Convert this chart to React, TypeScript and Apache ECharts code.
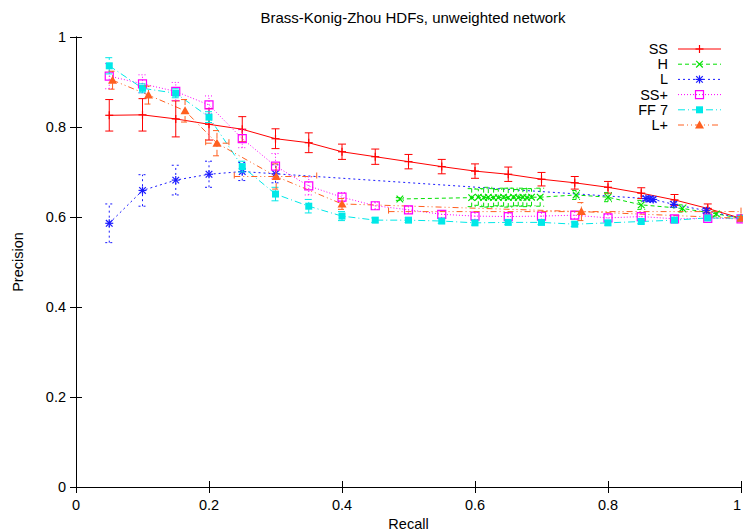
import React, { useEffect, useRef } from "react";
import * as echarts from "echarts";

const X_TICKS = [0, 0.2, 0.4, 0.6, 0.8, 1];
const Y_TICKS = [0, 0.2, 0.4, 0.6, 0.8, 1];

const SS_X = [0.05, 0.1, 0.15, 0.2, 0.25, 0.3, 0.35, 0.4, 0.45, 0.5, 0.55, 0.6, 0.65, 0.7, 0.75, 0.8, 0.85, 0.9, 0.95, 1.0];
const SS_Y = [0.826, 0.827, 0.818, 0.806, 0.795, 0.774, 0.765, 0.745, 0.734, 0.723, 0.712, 0.702, 0.695, 0.684, 0.676, 0.666, 0.653, 0.638, 0.619, 0.597];
const SS_ERR = [0.035, 0.036, 0.04, 0.035, 0.028, 0.022, 0.022, 0.017, 0.017, 0.016, 0.016, 0.016, 0.016, 0.015, 0.014, 0.013, 0.012, 0.012, 0.01, 0.005];

const H_X = [0.487, 0.595, 0.605, 0.613, 0.62, 0.628, 0.635, 0.643, 0.65, 0.658, 0.665, 0.672, 0.678, 0.685, 0.698, 0.752, 0.8, 0.85, 0.912, 0.963, 1.0];
const H_Y = [0.640, 0.643, 0.644, 0.643, 0.644, 0.643, 0.643, 0.644, 0.643, 0.644, 0.643, 0.644, 0.643, 0.644, 0.644, 0.649, 0.644, 0.627, 0.619, 0.607, 0.597];
const H_ERR = [0.003, 0.02, 0.018, 0.02, 0.022, 0.02, 0.018, 0.02, 0.021, 0.02, 0.018, 0.02, 0.02, 0.019, 0.02, 0.01, 0.01, 0.01, 0.008, 0.005, 0.003];

const L_X = [0.05, 0.1, 0.15, 0.2, 0.25, 0.3, 0.857, 0.863, 0.868, 0.899, 0.948, 1.0];
const L_Y = [0.586, 0.659, 0.682, 0.695, 0.701, 0.696, 0.641, 0.640, 0.639, 0.628, 0.614, 0.597];
const L_ERR = [0.043, 0.035, 0.033, 0.029, 0.02, 0.02, 0.005, 0.005, 0.005, 0.006, 0.005, 0.003];

const SSP_X = [0.05, 0.1, 0.15, 0.2, 0.25, 0.3, 0.35, 0.4, 0.45, 0.5, 0.55, 0.6, 0.65, 0.7, 0.75, 0.8, 0.85, 0.9, 0.95, 1.0];
const SSP_Y = [0.913, 0.896, 0.879, 0.849, 0.774, 0.713, 0.669, 0.644, 0.625, 0.616, 0.606, 0.602, 0.601, 0.602, 0.604, 0.598, 0.601, 0.596, 0.597, 0.596];
const SSP_ERR = [0.028, 0.02, 0.02, 0.02, 0.02, 0.028, 0.02, 0.01, 0.008, 0.008, 0.008, 0.008, 0.008, 0.008, 0.008, 0.008, 0.008, 0.006, 0.005, 0.003];

const FF_X = [0.05, 0.1, 0.15, 0.2, 0.25, 0.3, 0.35, 0.4, 0.45, 0.5, 0.55, 0.6, 0.65, 0.7, 0.75, 0.8, 0.85, 0.9, 0.95, 1.0];
const FF_Y = [0.936, 0.886, 0.875, 0.822, 0.712, 0.651, 0.624, 0.602, 0.593, 0.593, 0.591, 0.587, 0.588, 0.588, 0.584, 0.587, 0.590, 0.593, 0.598, 0.597];
const FF_ERR = [0.018, 0.01, 0.01, 0.012, 0.012, 0.015, 0.015, 0.01, 0.005, 0.005, 0.005, 0.005, 0.005, 0.005, 0.005, 0.005, 0.005, 0.005, 0.004, 0.003];

const LP_X = [0.055, 0.109, 0.164, 0.212, 0.301, 0.4, 0.76, 1.0];
const LP_Y = [0.904, 0.871, 0.836, 0.764, 0.690, 0.629, 0.612, 0.597];
const LP_ERR = [0.02, 0.02, 0.025, 0.028, 0.028, 0.012, 0.02, 0.004];
const LP_XLO = [0.055, 0.109, 0.164, 0.195, 0.238, 0.4, 0.47, 1.0];
const LP_XHI = [0.055, 0.109, 0.164, 0.23, 0.362, 0.4, 1.0, 1.0];

type Marker = "plus" | "cross" | "star" | "box" | "fbox" | "tri";

interface SeriesDef {
  name: string;
  xs: number[];
  ys: number[];
  err: number[];
  xlo?: number[];
  xhi?: number[];
  color: string;
  dash: number[] | null;
  marker: Marker;
}

const SERIES: SeriesDef[] = [
  { name: "SS", xs: SS_X, ys: SS_Y, err: SS_ERR, color: "#ff0000", dash: null, marker: "plus" },
  { name: "H", xs: H_X, ys: H_Y, err: H_ERR, color: "#00e000", dash: [4, 3], marker: "cross" },
  { name: "L", xs: L_X, ys: L_Y, err: L_ERR, color: "#1a1aff", dash: [2, 3], marker: "star" },
  { name: "SS+", xs: SSP_X, ys: SSP_Y, err: SSP_ERR, color: "#ff00ff", dash: [1, 2], marker: "box" },
  { name: "FF 7", xs: FF_X, ys: FF_Y, err: FF_ERR, color: "#00e8e8", dash: [7, 3, 1, 3], marker: "fbox" },
  { name: "L+", xs: LP_X, ys: LP_Y, err: LP_ERR, xlo: LP_XLO, xhi: LP_XHI, color: "#ff6020", dash: [6, 3, 1, 3, 1, 3], marker: "tri" },
];

function markerShapes(m: Marker, cx: number, cy: number, color: string): any[] {
  const st = { stroke: color, lineWidth: 1.2, fill: "none" };
  const ln = (x1: number, y1: number, x2: number, y2: number) => ({
    type: "line",
    shape: { x1, y1, x2, y2 },
    style: { stroke: color, lineWidth: 1.2 },
  });
  const s = 4;
  const d = 3.3;
  switch (m) {
    case "plus":
      return [ln(cx - s, cy, cx + s, cy), ln(cx, cy - s, cx, cy + s)];
    case "cross":
      return [ln(cx - d, cy - d, cx + d, cy + d), ln(cx - d, cy + d, cx + d, cy - d)];
    case "star":
      return [
        ln(cx - s, cy, cx + s, cy),
        ln(cx, cy - s, cx, cy + s),
        ln(cx - d, cy - d, cx + d, cy + d),
        ln(cx - d, cy + d, cx + d, cy - d),
      ];
    case "box":
      return [{ type: "rect", shape: { x: cx - 4, y: cy - 4, width: 8, height: 8 }, style: st }];
    case "fbox":
      return [{ type: "rect", shape: { x: cx - 3.5, y: cy - 3.5, width: 7, height: 7 }, style: { fill: color } }];
    case "tri":
      return [
        {
          type: "polygon",
          shape: { points: [[cx, cy - 4.5], [cx + 4.5, cy + 3.5], [cx - 4.5, cy + 3.5]] },
          style: { fill: color },
        },
      ];
  }
  return [];
}

const App: React.FC = () => {
  const ref = useRef<HTMLDivElement>(null);

  useEffect(() => {
    if (!ref.current) return;
    const chart = echarts.init(ref.current, null, { renderer: "svg" });

    const lineSeries = SERIES.map((s) => ({
      name: s.name,
      type: "line",
      data: s.xs.map((x, i) => [x, s.ys[i]]),
      showSymbol: false,
      symbol: "none",
      lineStyle: { color: s.color, width: 1, type: s.dash ? s.dash : "solid" },
      z: 2,
    }));

    const customSeries = SERIES.map((s) => ({
      name: s.name + "_err",
      type: "custom",
      data: s.xs.map((x, i) => [
        x,
        s.ys[i],
        s.ys[i] - s.err[i],
        s.ys[i] + s.err[i],
        s.xlo ? s.xlo[i] : x,
        s.xhi ? s.xhi[i] : x,
      ]),
      z: 3,
      renderItem: (_params: any, api: any) => {
        const x = api.value(0);
        const y = api.value(1);
        const lo = api.value(2);
        const hi = api.value(3);
        const xl = api.value(4);
        const xh = api.value(5);
        const p = api.coord([x, y]);
        const pl = api.coord([x, lo]);
        const ph = api.coord([x, hi]);
        const es = { stroke: s.color, lineWidth: 1, lineDash: s.dash || undefined };
        const children: any[] = [];
        const c = 4;
        if (Math.abs(pl[1] - ph[1]) > 1) {
          children.push({ type: "line", shape: { x1: p[0], y1: pl[1], x2: p[0], y2: ph[1] }, style: es });
          children.push({ type: "line", shape: { x1: p[0] - c, y1: pl[1], x2: p[0] + c, y2: pl[1] }, style: es });
          children.push({ type: "line", shape: { x1: p[0] - c, y1: ph[1], x2: p[0] + c, y2: ph[1] }, style: es });
        }
        const qx1 = api.coord([xl, y]);
        const qx2 = api.coord([xh, y]);
        if (Math.abs(qx2[0] - qx1[0]) > 1) {
          children.push({ type: "line", shape: { x1: qx1[0], y1: p[1], x2: qx2[0], y2: p[1] }, style: es });
          children.push({ type: "line", shape: { x1: qx1[0], y1: p[1] - c, x2: qx1[0], y2: p[1] + c }, style: es });
          children.push({ type: "line", shape: { x1: qx2[0], y1: p[1] - c, x2: qx2[0], y2: p[1] + c }, style: es });
        }
        children.push(...markerShapes(s.marker, p[0], p[1], s.color));
        return { type: "group", children };
      },
    }));

    const font = "'Liberation Sans', Arial, sans-serif";

    // Legend drawn with graphic elements
    const legendChildren: any[] = [];
    SERIES.forEach((s, i) => {
      const y = 49 + i * 15.2;
      legendChildren.push({
        type: "text",
        x: 668,
        y,
        style: {
          text: s.name,
          fill: "#000",
          font: "14.5px " + font,
          textAlign: "right",
          textVerticalAlign: "middle",
        },
      });
      legendChildren.push({
        type: "line",
        shape: { x1: 678, y1: y, x2: 721, y2: y },
        style: { stroke: s.color, lineWidth: 1, lineDash: s.dash || undefined },
      });
      legendChildren.push(...markerShapes(s.marker, 699.5, y, s.color));
    });

    const tickFont = { color: "#000", fontSize: 14.5, fontFamily: font };

    const option: any = {
      animation: false,
      backgroundColor: "#fff",
      title: {
        text: "Brass-Konig-Zhou HDFs, unweighted network",
        left: 408,
        top: 5,
        textAlign: "center",
        textStyle: { fontSize: 15, fontWeight: "normal", color: "#000", fontFamily: font },
      },
      grid: { left: 76, right: 2, top: 37, bottom: 44, containLabel: false, outerBoundsMode: "none" },
      xAxis: [
        {
          type: "value",
          min: 0,
          max: 1,
          interval: 0.2,
          position: "bottom",
          name: "Recall",
          nameLocation: "middle",
          nameGap: 25,
          nameTextStyle: tickFont,
          axisLine: { show: true, lineStyle: { color: "#000", width: 1 } },
          axisTick: { show: true, inside: true, length: 6, lineStyle: { color: "#000" } },
          axisLabel: { ...tickFont, margin: 10, alignMaxLabel: "right" },
          splitLine: { show: false },
        },
        {
          type: "value",
          min: 0,
          max: 1,
          interval: 0.2,
          position: "top",
          axisLine: { show: true, lineStyle: { color: "#000", width: 1 } },
          axisTick: { show: true, inside: true, length: 6, lineStyle: { color: "#000" } },
          axisLabel: { show: false },
          splitLine: { show: false },
        },
      ],
      yAxis: [
        {
          type: "value",
          min: 0,
          max: 1,
          interval: 0.2,
          position: "left",
          name: "Precision",
          nameLocation: "middle",
          nameGap: 51,
          nameRotate: 90,
          nameTextStyle: tickFont,
          axisLine: { show: true, lineStyle: { color: "#000", width: 1 } },
          axisTick: { show: true, inside: true, length: 6, lineStyle: { color: "#000" } },
          axisLabel: { ...tickFont, margin: 10 },
          splitLine: { show: false },
        },
        {
          type: "value",
          min: 0,
          max: 1,
          interval: 0.2,
          position: "right",
          axisLine: { show: true, lineStyle: { color: "#000", width: 1 } },
          axisTick: { show: true, inside: true, length: 6, lineStyle: { color: "#000" } },
          axisLabel: { show: false },
          splitLine: { show: false },
        },
      ],
      series: [...lineSeries, ...customSeries],
      graphic: [{ type: "group", children: legendChildren }],
    };
    void X_TICKS;
    void Y_TICKS;

    chart.setOption(option);
    return () => chart.dispose();
  }, []);

  return <div ref={ref} style={{ width: 743, height: 531, position: "absolute", left: 0, top: 0 }} />;
};

export default App;
